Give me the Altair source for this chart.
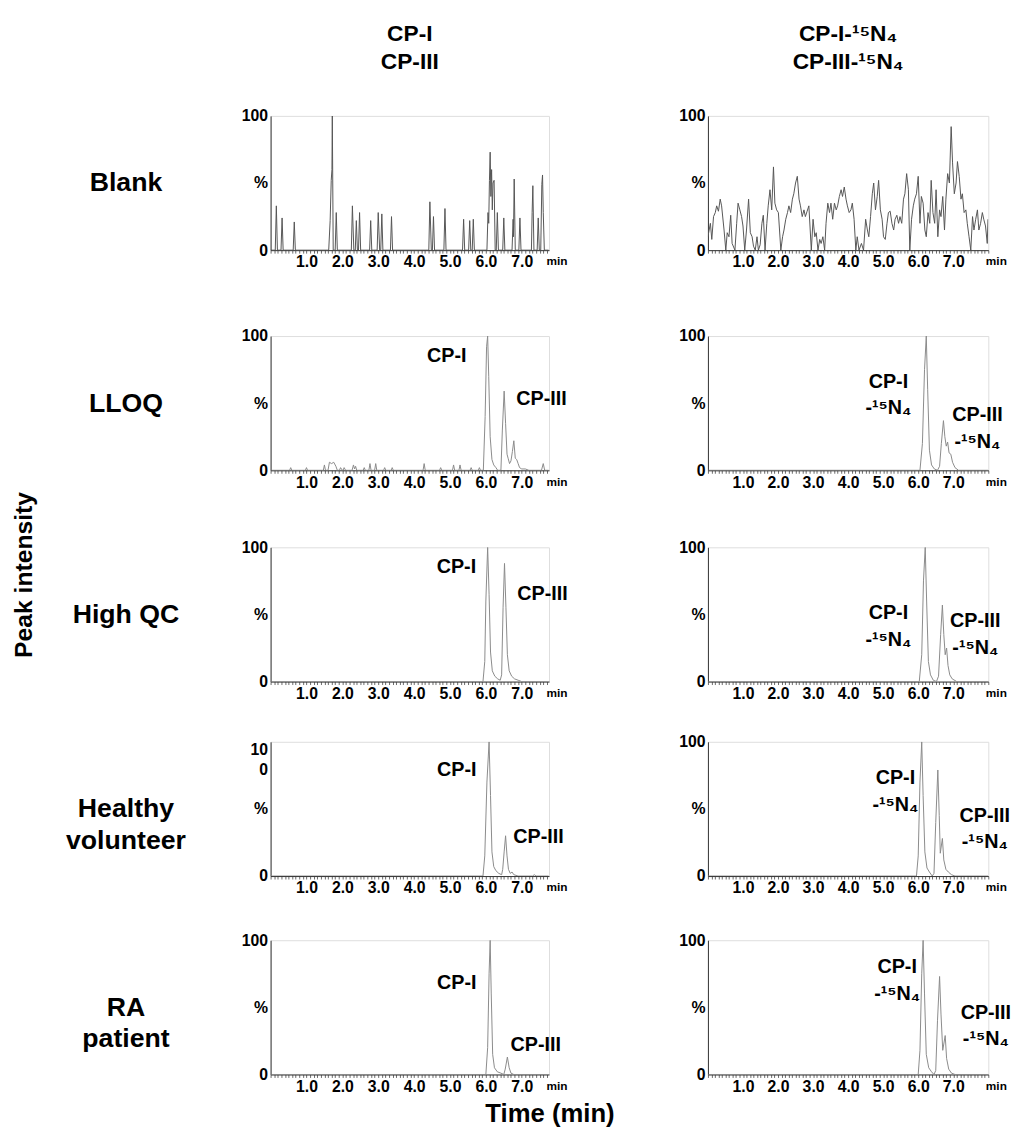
import altair as alt
import pandas as pd

FONT = "Liberation Sans"
PEAK_COLOR = "#8a8a8a"
NOISE_COLOR = "#555555"

ROW_LABELS = ["Blank", "LLOQ", "High QC", ["Healthy", "volunteer"], ["RA", "patient"]]
COL_TITLES = [["CP-I", "CP-III"], ["CP-I-\u00b9\u2075N\u2084", "CP-III-\u00b9\u2075N\u2084"]]

# ---- chromatogram traces: (time in min, intensity in %) ----
BLANK_L = [(0, 0), (0.13, 0), (0.16, 33), (0.19, 0), (0.29, 0), (0.32, 24), (0.35, 0), (0.63, 0), (0.66, 21), (0.69, 0),
           (1.62, 0), (1.66, 22), (1.69, 52), (1.71, 60), (1.72, 100), (1.745, 0), (1.80, 0), (1.83, 28), (1.86, 0),
           (2.25, 0), (2.28, 33), (2.32, 0), (2.36, 0), (2.39, 22), (2.42, 0), (2.45, 0), (2.48, 28), (2.51, 0),
           (2.76, 0), (2.79, 22), (2.82, 0), (2.97, 0), (3.0, 28), (3.04, 0), (3.07, 0), (3.10, 27), (3.13, 0),
           (3.34, 0), (3.37, 25), (3.40, 0), (4.41, 0), (4.44, 36), (4.48, 0), (4.51, 0), (4.54, 25), (4.57, 0),
           (4.83, 0), (4.86, 31), (4.89, 0), (5.35, 0), (5.38, 23), (5.41, 0), (5.52, 0), (5.55, 22), (5.58, 0),
           (5.62, 0), (5.65, 23), (5.68, 0), (6.03, 0), (6.06, 28), (6.08, 20), (6.10, 52), (6.12, 73), (6.14, 40),
           (6.16, 60), (6.18, 30), (6.20, 50), (6.23, 52), (6.26, 0), (6.29, 0), (6.32, 28), (6.35, 0), (6.47, 0),
           (6.50, 24), (6.53, 0), (6.73, 0), (6.76, 23), (6.77, 10), (6.79, 53), (6.82, 0), (6.92, 0), (6.95, 24),
           (6.98, 0), (7.27, 0), (7.29, 28), (7.31, 48), (7.34, 0), (7.43, 0), (7.46, 24), (7.49, 0), (7.53, 0),
           (7.56, 49), (7.58, 56), (7.60, 28), (7.63, 0), (7.75, 0)]

BLANK_R = [(0.00, 10), (0.07, 20), (0.11, 8), (0.16, 25), (0.21, 28), (0.25, 33), (0.30, 29), (0.35, 38), (0.39, 33),
           (0.46, 15), (0.51, 0), (0.55, 13), (0.60, 10), (0.65, 26), (0.69, 5), (0.77, 0), (0.82, 20), (0.86, 35),
           (0.91, 30), (0.96, 25), (1.00, 18), (1.05, 0), (1.10, 15), (1.16, 38), (1.21, 13), (1.26, 10), (1.30, 3),
           (1.35, 0), (1.40, 10), (1.44, 0), (1.49, 4), (1.54, 20), (1.58, 26), (1.63, 0), (1.68, 20), (1.72, 33),
           (1.77, 45), (1.82, 30), (1.87, 62), (1.91, 35), (1.96, 30), (2.01, 28), (2.08, 0), (2.13, 10), (2.17, 15),
           (2.22, 23), (2.27, 28), (2.31, 33), (2.36, 28), (2.41, 38), (2.45, 42), (2.50, 50), (2.55, 55), (2.60, 38),
           (2.64, 33), (2.69, 25), (2.74, 30), (2.78, 25), (2.83, 29), (2.88, 33), (2.95, 0), (3.00, 23), (3.05, 10),
           (3.09, 13), (3.14, 0), (3.19, 8), (3.23, 5), (3.28, 10), (3.33, 0), (3.37, 20), (3.42, 35), (3.47, 28),
           (3.51, 35), (3.56, 23), (3.61, 35), (3.66, 30), (3.70, 33), (3.75, 40), (3.80, 45), (3.84, 40), (3.89, 47),
           (3.94, 38), (3.98, 33), (4.03, 28), (4.08, 30), (4.12, 35), (4.17, 23), (4.22, 0), (4.26, 10), (4.31, 0),
           (4.38, 5), (4.44, 0), (4.50, 23), (4.55, 15), (4.59, 10), (4.64, 25), (4.69, 42), (4.73, 50), (4.78, 30),
           (4.83, 40), (4.87, 52), (4.92, 30), (4.97, 23), (5.01, 10), (5.06, 8), (5.11, 20), (5.15, 28), (5.20, 29),
           (5.25, 20), (5.30, 15), (5.34, 23), (5.39, 26), (5.44, 20), (5.48, 25), (5.53, 20), (5.58, 38), (5.62, 42),
           (5.67, 57), (5.72, 45), (5.76, 0), (5.81, 23), (5.86, 33), (5.90, 38), (5.95, 42), (6.00, 55), (6.05, 20),
           (6.09, 40), (6.14, 35), (6.19, 15), (6.23, 10), (6.28, 28), (6.33, 20), (6.37, 52), (6.42, 28), (6.47, 20),
           (6.51, 45), (6.56, 10), (6.61, 30), (6.65, 25), (6.70, 40), (6.75, 15), (6.79, 38), (6.84, 57), (6.89, 50),
           (6.94, 92), (6.98, 65), (7.03, 42), (7.08, 50), (7.12, 66), (7.17, 55), (7.22, 38), (7.26, 42), (7.31, 28),
           (7.36, 30), (7.40, 20), (7.45, 10), (7.50, 0), (7.55, 25), (7.59, 15), (7.64, 23), (7.69, 30), (7.73, 15),
           (7.78, 20), (7.83, 28), (7.87, 23), (7.92, 18), (7.97, 5), (7.99, 23)]

LLOQ_L = [(0, 0), (0.53, 0), (0.56, 2), (0.59, 0), (0.97, 0), (1.0, 2), (1.03, 0), (1.47, 0), (1.50, 4), (1.53, 0),
          (1.60, 0), (1.64, 6), (1.70, 5), (1.76, 6), (1.82, 3), (1.86, 0), (1.92, 0), (1.95, 2), (2.0, 0), (2.02, 0),
          (2.05, 2), (2.09, 0), (2.27, 0), (2.31, 4), (2.34, 1), (2.37, 3), (2.40, 0), (2.58, 0), (2.61, 2), (2.64, 0),
          (2.74, 0), (2.77, 5), (2.80, 0), (2.90, 0), (2.93, 5), (2.96, 0), (3.15, 0), (3.18, 2), (3.21, 0), (3.36, 0),
          (3.39, 2), (3.42, 0), (4.25, 0), (4.28, 5), (4.31, 0), (4.71, 0), (4.74, 2), (4.77, 0), (5.07, 0), (5.10, 4),
          (5.13, 0), (5.25, 0), (5.28, 4), (5.31, 0), (5.56, 0), (5.59, 2), (5.62, 0), (5.79, 0), (5.82, 2), (5.85, 0),
          (5.93, 0), (5.98, 40), (6.02, 92), (6.05, 100), (6.08, 70), (6.12, 25), (6.17, 8), (6.22, 4), (6.28, 2),
          (6.33, 0), (6.42, 0), (6.46, 30), (6.51, 59), (6.55, 35), (6.59, 12), (6.62, 9), (6.66, 5), (6.70, 7),
          (6.74, 14), (6.78, 22), (6.82, 9), (6.86, 8), (6.90, 5), (6.94, 2), (7.0, 1), (7.10, 1), (7.2, 0), (7.55, 0),
          (7.60, 5), (7.64, 0), (7.75, 0)]

LLOQ_R = [(0, 0), (6.05, 0), (6.12, 20), (6.18, 75), (6.23, 100), (6.27, 60), (6.32, 15), (6.38, 4), (6.46, 1),
          (6.55, 0), (6.61, 3), (6.66, 20), (6.72, 37), (6.76, 25), (6.80, 18), (6.84, 21), (6.88, 13), (6.93, 12),
          (6.98, 6), (7.05, 2), (7.15, 0), (8.0, 0)]

HQC_L = [(0, 0), (5.92, 0), (5.97, 15), (6.0, 60), (6.05, 100), (6.09, 65), (6.13, 22), (6.18, 8), (6.25, 4),
         (6.33, 2), (6.40, 1), (6.44, 5), (6.48, 55), (6.52, 88), (6.56, 55), (6.60, 20), (6.65, 8), (6.72, 4),
         (6.8, 2), (6.9, 1), (7.0, 0), (7.75, 0)]

HQC_R = [(0, 0), (6.03, 0), (6.1, 20), (6.15, 75), (6.2, 100), (6.24, 60), (6.29, 15), (6.35, 5), (6.43, 1),
         (6.52, 0), (6.58, 4), (6.64, 35), (6.69, 57), (6.73, 35), (6.77, 20), (6.81, 25), (6.85, 12), (6.9, 5),
         (6.97, 2), (7.1, 0), (8.0, 0)]

HV_L = [(0, 0), (5.92, 0), (5.97, 15), (6.03, 70), (6.09, 100), (6.13, 60), (6.17, 18), (6.22, 7), (6.28, 4),
        (6.36, 2), (6.44, 1), (6.47, 5), (6.51, 18), (6.55, 30), (6.59, 15), (6.63, 5), (6.68, 2), (6.73, 3),
        (6.78, 1), (6.9, 0), (7.3, 0), (7.35, 1), (7.4, 0), (7.75, 0)]

HV_R = [(0, 0), (5.95, 0), (6.0, 15), (6.05, 70), (6.1, 100), (6.14, 60), (6.19, 18), (6.25, 6), (6.32, 3),
        (6.4, 0), (6.45, 2), (6.5, 40), (6.56, 79), (6.6, 45), (6.63, 17), (6.69, 28), (6.73, 12), (6.79, 5),
        (6.86, 3), (6.95, 1), (7.05, 0), (8.0, 0)]

RA_L = [(0, 0), (6.0, 0), (6.05, 20), (6.09, 75), (6.12, 100), (6.15, 60), (6.19, 15), (6.24, 5), (6.32, 2),
        (6.42, 1), (6.50, 0), (6.54, 4), (6.60, 13), (6.65, 5), (6.70, 1), (6.78, 0), (7.75, 0)]

RA_R = [(0, 0), (6.0, 0), (6.05, 18), (6.1, 75), (6.14, 100), (6.18, 60), (6.23, 15), (6.3, 5), (6.38, 2),
        (6.45, 0), (6.5, 3), (6.55, 40), (6.61, 73), (6.65, 45), (6.7, 18), (6.77, 29), (6.81, 12), (6.87, 4),
        (6.95, 1), (7.05, 0), (8.0, 0)]

TRACES = [(BLANK_L, BLANK_R), (LLOQ_L, LLOQ_R), (HQC_L, HQC_R), (HV_L, HV_R), (RA_L, RA_R)]

# ---- peak annotations: (time, %, text) ----
N15 = "-\u00b9\u2075N\u2084"
ANN = [
    ([], []),
    ([(4.91, 85, "CP-I"), (7.55, 53, "CP-III")],
     [(5.15, 66, "CP-I\n" + N15), (7.69, 41, "CP-III\n" + N15)]),
    ([(5.18, 85, "CP-I"), (7.58, 65, "CP-III")],
     [(5.15, 51, "CP-I\n" + N15), (7.63, 45, "CP-III\n" + N15)]),
    ([(5.19, 79, "CP-I"), (7.47, 29, "CP-III")],
     [(5.35, 73, "CP-I\n" + N15), (7.9, 45, "CP-III\n" + N15)]),
    ([(5.19, 68, "CP-I"), (7.39, 22, "CP-III")],
     [(5.4, 80, "CP-I\n" + N15), (7.93, 46, "CP-III\n" + N15)]),
]

XMAX = [7.76, 8.0]
WIDTHS = [282, 284]
HEIGHT = 136
TOP_PAD = [0, 55, 46, 29, 33]   # extra space above rows (layout spacer)


def panel(row, col):
    pts = TRACES[row][col]
    df = pd.DataFrame({"t": [p[0] for p in pts], "y": [p[1] for p in pts]})
    w = WIDTHS[col]
    ticks = [round(i * 0.1, 1) for i in range(0, int(round(XMAX[col] * 10)) + 1)]
    xaxis = alt.Axis(
        values=ticks,
        labelExpr="(datum.value >= 1 && datum.value <= 7 && abs(datum.value - round(datum.value)) < 0.01) ? format(datum.value, '.1f') : ''",
        tickSize=3, tickColor="#444", tickWidth=0.8, domainColor="#333", domainWidth=1,
        labelFont=FONT, labelFontSize=16, labelFontWeight="bold", labelColor="#000",
        labelPadding=1, labelOverlap=False, labelFlush=False, grid=False,
        title="min", titleX=w - 3, titleY=11, titleAlign="left", titleBaseline="middle",
        titleFont=FONT, titleFontSize=12, titleFontWeight="bold", titleColor="#000",
    )
    if row == 3 and col == 0:
        lab = "datum.value == 100 ? ['10', '0'] : (datum.value == 50 ? '%' : '0')"
        lbase = {"condition": {"test": "datum.value == 100", "value": "top"}, "value": "middle"}
    else:
        lab = "datum.value == 100 ? '100' : (datum.value == 50 ? '%' : '0')"
        lbase = "middle"
    yargs = dict(
        values=[0, 50, 100], labelExpr=lab, ticks=False, domainColor="#333", domainWidth=1,
        labelFont=FONT, labelFontSize=16, labelFontWeight="bold", labelColor="#000",
        labelPadding=3, labelBaseline=lbase, labelLineHeight=20, grid=False,
    )
    if col == 0:
        yargs.update(title=ROW_LABELS[row], titleAngle=0, titleX=-147, titleY=HEIGHT / 2,
                     titleAlign="center", titleBaseline="middle", titleFont=FONT, titleFontSize=27,
                     titleFontWeight="bold", titleColor="#000", titleLineHeight=32)
    else:
        yargs.update(title=None)
    yaxis = alt.Axis(**yargs)
    xs = alt.Scale(domain=[0, XMAX[col]], nice=False, zero=False)
    ys = alt.Scale(domain=[0, 100], nice=False)

    line = alt.Chart(df).mark_line(
        color=NOISE_COLOR if row == 0 else PEAK_COLOR, strokeWidth=1, clip=True
    ).encode(
        x=alt.X("t:Q", scale=xs, axis=xaxis),
        y=alt.Y("y:Q", scale=ys, axis=yaxis),
    )
    layers = [line]

    ann = ANN[row][col]
    if ann:
        adf = pd.DataFrame({"t": [a[0] for a in ann], "y": [a[1] for a in ann], "label": [a[2] for a in ann]})
        layers.append(alt.Chart(adf).mark_text(
            font=FONT, fontSize=20, fontWeight="bold", color="#000", align="center",
            baseline="middle", lineBreak="\n", lineHeight=27
        ).encode(x=alt.X("t:Q", scale=xs, axis=xaxis), y=alt.Y("y:Q", scale=ys, axis=yaxis),
                 text="label:N"))

    # invisible layout spacer fixing each cell's extent
    sp = pd.DataFrame({"k": [0]})
    x_lo, x_hi = (-230, 360) if col == 0 else (-35, w + 10)
    layers.append(alt.Chart(sp).mark_rule(opacity=0, strokeOpacity=0).encode(
        x=alt.value(x_lo), x2=alt.value(x_hi), y=alt.value(-TOP_PAD[row]), y2=alt.value(-TOP_PAD[row])))

    if row == 4 and col == 0:
        layers.append(alt.Chart(sp).mark_text(
            text="Time (min)", font=FONT, fontSize=26, fontWeight="bold", color="#000",
            align="center", baseline="middle").encode(x=alt.value(283), y=alt.value(HEIGHT + 40)))

    ch = alt.layer(*layers).properties(width=w, height=HEIGHT)
    if row == 0:
        ch = ch.properties(title=alt.TitleParams(
            COL_TITLES[col], frame="group", anchor="middle", orient="top", offset=34,
            font=FONT, fontSize=23, fontWeight="bold", color="#000", lineHeight=29))
    return ch


panels = []
for r in range(5):
    for c in range(2):
        panels.append(panel(r, c))

chart = alt.concat(*panels, columns=2, spacing={"row": 10, "column": 46}).properties(
    align="each",
    padding={"left": 4, "top": 7, "right": 0, "bottom": 0},
    title=alt.TitleParams("Peak intensity", orient="left", anchor="middle", offset=6,
                          font=FONT, fontSize=25, fontWeight="bold", color="#000"),
).configure_view(stroke=None).configure(background="white")

chart.save("out.html", embed_options={"renderer": "svg", "actions": False})
